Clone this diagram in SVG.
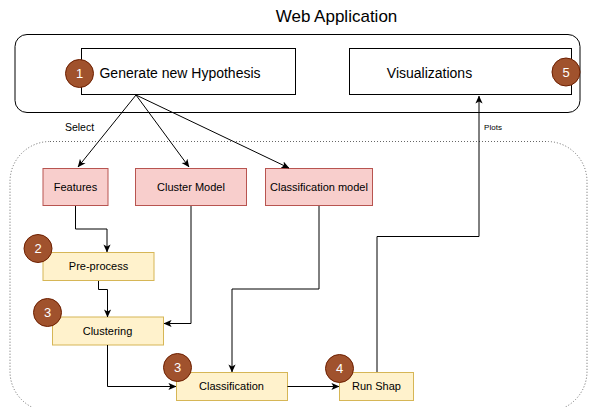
<svg xmlns="http://www.w3.org/2000/svg" width="590" height="407" viewBox="0 0 590 407">
<defs>
<marker id="arr" viewBox="0 0 10 10" refX="9.5" refY="5" markerWidth="8" markerHeight="8" markerUnits="userSpaceOnUse" orient="auto">
<path d="M0,0.5 L10,5 L0,9.5 L2.5,5 Z" fill="#000"/>
</marker>
</defs>
<style>
text{font-family:"Liberation Sans",Arial,sans-serif;fill:#000;text-anchor:middle}
.red{fill:#f8cecc;stroke:#b85450;stroke-width:1}
.yel{fill:#fff2cc;stroke:#d6b656;stroke-width:1}
.wht{fill:#fff;stroke:#000;stroke-width:1}
.num{fill:#a0522d;stroke:#6d1f00;stroke-width:1}
.numt{fill:#fff;font-size:13px}
.lbl{font-size:11px}
.big{font-size:14px}
.edge{fill:none;stroke:#000;stroke-width:1;marker-end:url(#arr)}
</style>
<rect width="590" height="407" fill="#fff"/>
<text x="336.5" y="21.5" style="font-size:17px">Web Application</text>
<g id="webapp"><rect x="15" y="34.5" width="565" height="78" rx="12" fill="#fff" stroke="#000" stroke-width="1"/></g>
<g id="backend"><rect x="10" y="141.5" width="577" height="270" rx="40" fill="none" stroke="#666" stroke-width="1" stroke-dasharray="1,2"/></g>
<g id="generate">
<rect class="wht" x="81.5" y="48.5" width="214" height="46"/>
<text class="big" x="180" y="77.5">Generate new Hypothesis</text>
</g>
<g id="visualizations">
<rect class="wht" x="349.5" y="48.5" width="222" height="46"/>
<text class="big" x="429.5" y="77.5">Visualizations</text>
</g>
<g id="features"><rect class="red" x="43" y="168.5" width="65" height="37"/><text class="lbl" x="75.5" y="191">Features</text></g>
<g id="clustermodel"><rect class="red" x="135.5" y="168.5" width="111" height="37"/><text class="lbl" x="191" y="191">Cluster Model</text></g>
<g id="classmodel"><rect class="red" x="265.5" y="168.5" width="107" height="37"/><text class="lbl" x="319" y="191">Classification model</text></g>
<g id="preprocess"><rect class="yel" x="43" y="252.5" width="111" height="28"/><text class="lbl" x="98.5" y="270">Pre-process</text></g>
<g id="clustering"><rect class="yel" x="52.5" y="317" width="111" height="28"/><text class="lbl" x="107.5" y="334.5">Clustering</text></g>
<g id="classification"><rect class="yel" x="176.5" y="372.5" width="111" height="28"/><text class="lbl" x="231.5" y="390">Classification</text></g>
<g id="runshap"><rect class="yel" x="339.5" y="372.5" width="74" height="28"/><text class="lbl" x="376.5" y="390">Run Shap</text></g>
<g id="connectors">
<path class="edge" d="M136,95 L78,167"/>
<path class="edge" d="M136,95 L189,167"/>
<path class="edge" d="M136,95 L289,168"/>
<path class="edge" d="M75.5,206 V229 H107 V252"/>
<path class="edge" d="M98.5,281 V289.5 H107.5 V317"/>
<path class="edge" d="M191,206 V323.5 H164"/>
<path class="edge" d="M107.5,345 V386.5 H176"/>
<path class="edge" d="M319,206 V289 H232 V372"/>
<path class="edge" d="M287.5,386.5 H339"/>
<path class="edge" d="M377,372 V236.5 H479 V96"/>
<text x="79.5" y="130.5" style="font-size:10.5px">Select</text>
<text x="493" y="130" style="font-size:8px">Plots</text>
</g>
<g id="badge1"><circle class="num" cx="79.5" cy="73.5" r="14"/><text class="numt" x="79.5" y="78">1</text></g>
<g id="badge5"><circle class="num" cx="566" cy="72" r="14"/><text class="numt" x="566" y="76.5">5</text></g>
<g id="badge2"><circle class="num" cx="38" cy="248.5" r="14"/><text class="numt" x="38" y="253">2</text></g>
<g id="badge3a"><circle class="num" cx="47.5" cy="312.5" r="14"/><text class="numt" x="47.5" y="317">3</text></g>
<g id="badge3b"><circle class="num" cx="177.5" cy="367.5" r="14"/><text class="numt" x="177.5" y="372">3</text></g>
<g id="badge4"><circle class="num" cx="339.5" cy="368.5" r="14"/><text class="numt" x="339.5" y="373">4</text></g>
</svg>
